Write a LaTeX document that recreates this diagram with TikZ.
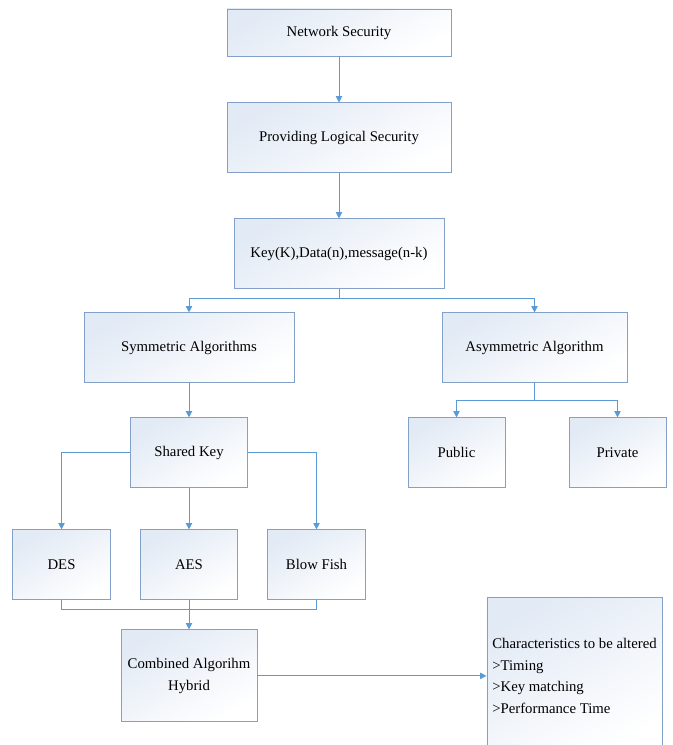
\documentclass[tikz,border=0pt]{standalone}
\usepackage{fontspec}
\setmainfont{Liberation Serif}
\usetikzlibrary{positioning,arrows.meta}
\definecolor{boxline}{RGB}{130,160,200}
\definecolor{boxfill}{RGB}{226,234,245}
\definecolor{linkblue}{RGB}{91,155,213}

\begin{document}
\begin{tikzpicture}[
    node distance=1cm,
    block/.style={rectangle, draw=boxline, line width=0.7pt, top color=boxfill, bottom color=white, shading angle=30, align=center, minimum height=1.75cm, inner sep=0.1cm, font=\fontsize{10.5}{15.4}\selectfont},
    line/.style={draw=linkblue, line width=0.7pt},
    arrow/.style={line, -{Triangle[length=1.6mm, width=1.6mm]}}
]

% Frame
\useasboundingbox (0,0) rectangle (16.8,-18.625);
\clip (0,0) rectangle (16.8,-18.625);

% Blocks
\node[block, minimum width=5.6cm, minimum height=1.175cm] (net) at (8.475,-0.8125) {Network Security};
\node[block, minimum width=5.6cm, below=1.15cm of net] (prov) {Providing Logical Security};
\node[block, minimum width=5.25cm, below=1.125cm of prov] (key) {Key(K),Data(n),message(n-k)};
\node[block, minimum width=5.25cm, below=0.575cm of key, xshift=-3.75cm] (sym) {Symmetric Algorithms};
\node[block, minimum width=4.625cm, below=0.575cm of key, xshift=4.8875cm] (asym) {Asymmetric Algorithm};
\node[block, minimum width=2.925cm, below=0.85cm of sym] (shared) {Shared Key};
\node[block, minimum width=2.425cm, below=0.85cm of asym, xshift=-1.95cm] (public) {Public};
\node[block, minimum width=2.425cm, below=0.85cm of asym, xshift=2.075cm] (private) {Private};
\node[block, minimum width=2.425cm, below=1.025cm of shared] (aes) {AES};
\node[block, minimum width=2.45cm, left=0.725cm of aes] (des) {DES};
\node[block, minimum width=2.45cm, right=0.725cm of aes] (blow) {Blow Fish};
\node[block, minimum width=3.4cm, minimum height=2.3cm, below=0.725cm of aes] (comb) {Combined Algorihm\\Hybrid};
\node[block, minimum width=4.375cm, minimum height=3.9cm, align=left, right=5.725cm of comb] (char) {Characteristics to be altered\\>Timing\\>Key matching\\>Performance Time};

% Intermediate coordinates
\coordinate[below=0.225cm of key] (keysplit);
\coordinate[below=0.425cm of asym] (asymsplit);
\coordinate[below=0.225cm of aes] (merge);

% Main path
\draw[arrow] (net) -- (prov);
\draw[arrow] (prov) -- (key);
\draw[line] (key) -- (keysplit);
\draw[arrow] (keysplit) -| (sym);
\draw[arrow] (keysplit) -| (asym);

% Asymmetric branch
\draw[line] (asym) -- (asymsplit);
\draw[arrow] (asymsplit) -| (public);
\draw[arrow] (asymsplit) -| (private);

% Symmetric branch
\draw[arrow] (sym) -- (shared);
\draw[arrow] (shared) -| (des);
\draw[arrow] (shared) -- (aes);
\draw[arrow] (shared) -| (blow);
\draw[line] (des) |- (merge) -| (blow);
\draw[arrow] (aes) -- (comb);
\draw[arrow] (comb) -- (comb.east -| char.west);

\end{tikzpicture}
\end{document}
